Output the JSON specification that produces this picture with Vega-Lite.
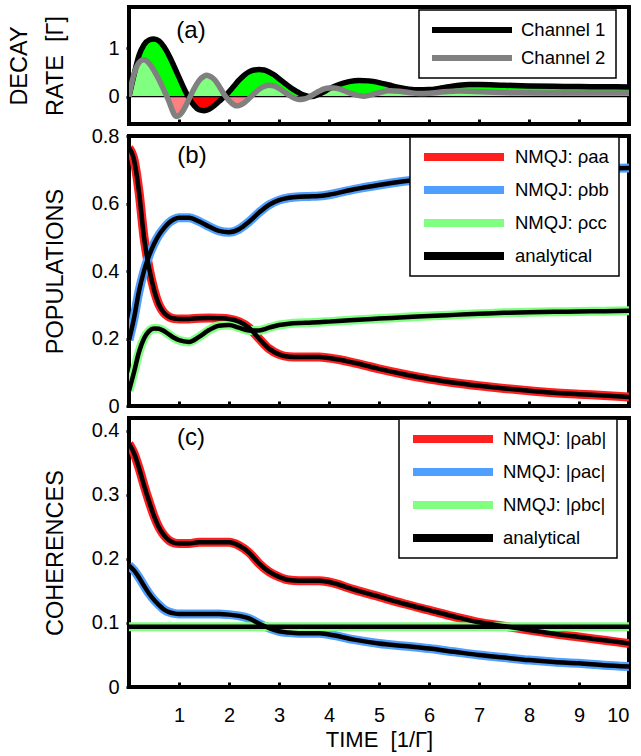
{
  "$schema": "https://vega.github.io/schema/vega-lite/v6.json",
  "background": "white",
  "padding": {"left": 5, "top": 5, "right": 3, "bottom": 3},
  "spacing": 12,
  "bounds": "flush",
  "resolve": {"scale": {"color": "independent"}, "legend": {"color": "independent"}},
  "datasets": {
    "decay": [
      {"t":0,"s":"Channel 1","v":0},{"t":0.1,"s":"Channel 1","v":0.45},{"t":0.2,"s":"Channel 1","v":0.85},{"t":0.3,"s":"Channel 1","v":1.07},{"t":0.4,"s":"Channel 1","v":1.17},{"t":0.5,"s":"Channel 1","v":1.19},{"t":0.6,"s":"Channel 1","v":1.15},{"t":0.7,"s":"Channel 1","v":1.03},{"t":0.8,"s":"Channel 1","v":0.85},{"t":0.9,"s":"Channel 1","v":0.63},{"t":1.0,"s":"Channel 1","v":0.4},{"t":1.1,"s":"Channel 1","v":0.17},{"t":1.2,"s":"Channel 1","v":-0.03},{"t":1.3,"s":"Channel 1","v":-0.18},{"t":1.4,"s":"Channel 1","v":-0.27},{"t":1.5,"s":"Channel 1","v":-0.29},{"t":1.6,"s":"Channel 1","v":-0.26},{"t":1.7,"s":"Channel 1","v":-0.19},{"t":1.8,"s":"Channel 1","v":-0.1},{"t":1.9,"s":"Channel 1","v":-0.01},{"t":2.0,"s":"Channel 1","v":0.1},{"t":2.1,"s":"Channel 1","v":0.22},{"t":2.2,"s":"Channel 1","v":0.34},{"t":2.3,"s":"Channel 1","v":0.44},{"t":2.4,"s":"Channel 1","v":0.51},{"t":2.5,"s":"Channel 1","v":0.55},{"t":2.6,"s":"Channel 1","v":0.56},{"t":2.7,"s":"Channel 1","v":0.55},{"t":2.8,"s":"Channel 1","v":0.51},{"t":2.9,"s":"Channel 1","v":0.45},{"t":3.0,"s":"Channel 1","v":0.37},{"t":3.1,"s":"Channel 1","v":0.29},{"t":3.2,"s":"Channel 1","v":0.21},{"t":3.3,"s":"Channel 1","v":0.14},{"t":3.4,"s":"Channel 1","v":0.08},{"t":3.5,"s":"Channel 1","v":0.03},{"t":3.6,"s":"Channel 1","v":0.005},{"t":3.7,"s":"Channel 1","v":0.01},{"t":3.8,"s":"Channel 1","v":0.05},{"t":3.9,"s":"Channel 1","v":0.1},{"t":4.0,"s":"Channel 1","v":0.16},{"t":4.2,"s":"Channel 1","v":0.25},{"t":4.4,"s":"Channel 1","v":0.31},{"t":4.6,"s":"Channel 1","v":0.335},{"t":4.8,"s":"Channel 1","v":0.325},{"t":5.0,"s":"Channel 1","v":0.29},{"t":5.2,"s":"Channel 1","v":0.24},{"t":5.4,"s":"Channel 1","v":0.19},{"t":5.6,"s":"Channel 1","v":0.155},{"t":5.8,"s":"Channel 1","v":0.14},{"t":6.0,"s":"Channel 1","v":0.145},{"t":6.2,"s":"Channel 1","v":0.17},{"t":6.4,"s":"Channel 1","v":0.205},{"t":6.6,"s":"Channel 1","v":0.235},{"t":6.8,"s":"Channel 1","v":0.25},{"t":7.0,"s":"Channel 1","v":0.25},{"t":7.5,"s":"Channel 1","v":0.235},{"t":8.0,"s":"Channel 1","v":0.22},{"t":8.5,"s":"Channel 1","v":0.212},{"t":9.0,"s":"Channel 1","v":0.207},{"t":9.5,"s":"Channel 1","v":0.203},{"t":10,"s":"Channel 1","v":0.2},
      {"t":0,"s":"Channel 2","v":0},{"t":0.05,"s":"Channel 2","v":0.26},{"t":0.1,"s":"Channel 2","v":0.46},{"t":0.15,"s":"Channel 2","v":0.61},{"t":0.2,"s":"Channel 2","v":0.7},{"t":0.25,"s":"Channel 2","v":0.75},{"t":0.3,"s":"Channel 2","v":0.76},{"t":0.35,"s":"Channel 2","v":0.74},{"t":0.4,"s":"Channel 2","v":0.69},{"t":0.5,"s":"Channel 2","v":0.54},{"t":0.6,"s":"Channel 2","v":0.35},{"t":0.7,"s":"Channel 2","v":0.13},{"t":0.8,"s":"Channel 2","v":-0.1},{"t":0.85,"s":"Channel 2","v":-0.24},{"t":0.9,"s":"Channel 2","v":-0.36},{"t":0.95,"s":"Channel 2","v":-0.41},{"t":1.0,"s":"Channel 2","v":-0.39},{"t":1.05,"s":"Channel 2","v":-0.34},{"t":1.1,"s":"Channel 2","v":-0.26},{"t":1.2,"s":"Channel 2","v":-0.05},{"t":1.3,"s":"Channel 2","v":0.16},{"t":1.4,"s":"Channel 2","v":0.33},{"t":1.5,"s":"Channel 2","v":0.42},{"t":1.55,"s":"Channel 2","v":0.44},{"t":1.6,"s":"Channel 2","v":0.43},{"t":1.7,"s":"Channel 2","v":0.36},{"t":1.8,"s":"Channel 2","v":0.22},{"t":1.9,"s":"Channel 2","v":0.05},{"t":2.0,"s":"Channel 2","v":-0.08},{"t":2.1,"s":"Channel 2","v":-0.17},{"t":2.15,"s":"Channel 2","v":-0.19},{"t":2.2,"s":"Channel 2","v":-0.185},{"t":2.3,"s":"Channel 2","v":-0.13},{"t":2.4,"s":"Channel 2","v":-0.04},{"t":2.5,"s":"Channel 2","v":0.06},{"t":2.6,"s":"Channel 2","v":0.15},{"t":2.7,"s":"Channel 2","v":0.21},{"t":2.8,"s":"Channel 2","v":0.235},{"t":2.9,"s":"Channel 2","v":0.22},{"t":3.0,"s":"Channel 2","v":0.17},{"t":3.1,"s":"Channel 2","v":0.1},{"t":3.2,"s":"Channel 2","v":0.03},{"t":3.3,"s":"Channel 2","v":-0.03},{"t":3.4,"s":"Channel 2","v":-0.06},{"t":3.5,"s":"Channel 2","v":-0.05},{"t":3.6,"s":"Channel 2","v":-0.01},{"t":3.7,"s":"Channel 2","v":0.05},{"t":3.8,"s":"Channel 2","v":0.11},{"t":3.9,"s":"Channel 2","v":0.16},{"t":4.0,"s":"Channel 2","v":0.18},{"t":4.1,"s":"Channel 2","v":0.18},{"t":4.2,"s":"Channel 2","v":0.16},{"t":4.4,"s":"Channel 2","v":0.08},{"t":4.6,"s":"Channel 2","v":0.02},{"t":4.7,"s":"Channel 2","v":0.01},{"t":4.8,"s":"Channel 2","v":0.025},{"t":5.0,"s":"Channel 2","v":0.08},{"t":5.2,"s":"Channel 2","v":0.12},{"t":5.4,"s":"Channel 2","v":0.11},{"t":5.6,"s":"Channel 2","v":0.085},{"t":5.8,"s":"Channel 2","v":0.065},{"t":6.0,"s":"Channel 2","v":0.07},{"t":6.3,"s":"Channel 2","v":0.1},{"t":6.6,"s":"Channel 2","v":0.115},{"t":6.9,"s":"Channel 2","v":0.105},{"t":7.3,"s":"Channel 2","v":0.09},{"t":7.8,"s":"Channel 2","v":0.078},{"t":8.5,"s":"Channel 2","v":0.075},{"t":9.0,"s":"Channel 2","v":0.075},{"t":10,"s":"Channel 2","v":0.075}
    ],
    "pop": [
      {"t":0,"s":"NMQJ: ρaa","v":0.765},{"t":0.1,"s":"NMQJ: ρaa","v":0.73},{"t":0.2,"s":"NMQJ: ρaa","v":0.635},{"t":0.3,"s":"NMQJ: ρaa","v":0.5},{"t":0.4,"s":"NMQJ: ρaa","v":0.41},{"t":0.5,"s":"NMQJ: ρaa","v":0.345},{"t":0.6,"s":"NMQJ: ρaa","v":0.3},{"t":0.7,"s":"NMQJ: ρaa","v":0.276},{"t":0.8,"s":"NMQJ: ρaa","v":0.264},{"t":0.9,"s":"NMQJ: ρaa","v":0.259},{"t":1.0,"s":"NMQJ: ρaa","v":0.258},{"t":1.2,"s":"NMQJ: ρaa","v":0.258},{"t":1.4,"s":"NMQJ: ρaa","v":0.26},{"t":1.6,"s":"NMQJ: ρaa","v":0.261},{"t":1.8,"s":"NMQJ: ρaa","v":0.26},{"t":2.0,"s":"NMQJ: ρaa","v":0.258},{"t":2.2,"s":"NMQJ: ρaa","v":0.25},{"t":2.4,"s":"NMQJ: ρaa","v":0.232},{"t":2.6,"s":"NMQJ: ρaa","v":0.2},{"t":2.8,"s":"NMQJ: ρaa","v":0.17},{"t":3.0,"s":"NMQJ: ρaa","v":0.153},{"t":3.2,"s":"NMQJ: ρaa","v":0.146},{"t":3.4,"s":"NMQJ: ρaa","v":0.145},{"t":3.6,"s":"NMQJ: ρaa","v":0.145},{"t":3.8,"s":"NMQJ: ρaa","v":0.145},{"t":4.0,"s":"NMQJ: ρaa","v":0.142},{"t":4.5,"s":"NMQJ: ρaa","v":0.128},{"t":5.0,"s":"NMQJ: ρaa","v":0.11},{"t":5.5,"s":"NMQJ: ρaa","v":0.094},{"t":6.0,"s":"NMQJ: ρaa","v":0.08},{"t":6.5,"s":"NMQJ: ρaa","v":0.069},{"t":7.0,"s":"NMQJ: ρaa","v":0.06},{"t":7.5,"s":"NMQJ: ρaa","v":0.052},{"t":8.0,"s":"NMQJ: ρaa","v":0.045},{"t":8.5,"s":"NMQJ: ρaa","v":0.039},{"t":9.0,"s":"NMQJ: ρaa","v":0.035},{"t":9.5,"s":"NMQJ: ρaa","v":0.031},{"t":10,"s":"NMQJ: ρaa","v":0.027},
      {"t":0,"s":"NMQJ: ρbb","v":0.195},{"t":0.1,"s":"NMQJ: ρbb","v":0.26},{"t":0.2,"s":"NMQJ: ρbb","v":0.34},{"t":0.3,"s":"NMQJ: ρbb","v":0.4},{"t":0.4,"s":"NMQJ: ρbb","v":0.445},{"t":0.5,"s":"NMQJ: ρbb","v":0.48},{"t":0.6,"s":"NMQJ: ρbb","v":0.507},{"t":0.7,"s":"NMQJ: ρbb","v":0.527},{"t":0.8,"s":"NMQJ: ρbb","v":0.543},{"t":0.9,"s":"NMQJ: ρbb","v":0.553},{"t":1.0,"s":"NMQJ: ρbb","v":0.558},{"t":1.2,"s":"NMQJ: ρbb","v":0.558},{"t":1.4,"s":"NMQJ: ρbb","v":0.547},{"t":1.6,"s":"NMQJ: ρbb","v":0.532},{"t":1.8,"s":"NMQJ: ρbb","v":0.519},{"t":2.0,"s":"NMQJ: ρbb","v":0.515},{"t":2.2,"s":"NMQJ: ρbb","v":0.524},{"t":2.4,"s":"NMQJ: ρbb","v":0.546},{"t":2.6,"s":"NMQJ: ρbb","v":0.573},{"t":2.8,"s":"NMQJ: ρbb","v":0.596},{"t":3.0,"s":"NMQJ: ρbb","v":0.61},{"t":3.2,"s":"NMQJ: ρbb","v":0.617},{"t":3.4,"s":"NMQJ: ρbb","v":0.62},{"t":3.6,"s":"NMQJ: ρbb","v":0.621},{"t":3.8,"s":"NMQJ: ρbb","v":0.622},{"t":4.0,"s":"NMQJ: ρbb","v":0.626},{"t":4.5,"s":"NMQJ: ρbb","v":0.642},{"t":5.0,"s":"NMQJ: ρbb","v":0.655},{"t":5.5,"s":"NMQJ: ρbb","v":0.666},{"t":6.0,"s":"NMQJ: ρbb","v":0.675},{"t":6.5,"s":"NMQJ: ρbb","v":0.683},{"t":7.0,"s":"NMQJ: ρbb","v":0.689},{"t":7.5,"s":"NMQJ: ρbb","v":0.694},{"t":8.0,"s":"NMQJ: ρbb","v":0.698},{"t":8.5,"s":"NMQJ: ρbb","v":0.701},{"t":9.0,"s":"NMQJ: ρbb","v":0.703},{"t":9.5,"s":"NMQJ: ρbb","v":0.704},{"t":10,"s":"NMQJ: ρbb","v":0.705},
      {"t":0,"s":"NMQJ: ρcc","v":0.045},{"t":0.1,"s":"NMQJ: ρcc","v":0.1},{"t":0.2,"s":"NMQJ: ρcc","v":0.16},{"t":0.3,"s":"NMQJ: ρcc","v":0.2},{"t":0.4,"s":"NMQJ: ρcc","v":0.222},{"t":0.5,"s":"NMQJ: ρcc","v":0.23},{"t":0.6,"s":"NMQJ: ρcc","v":0.229},{"t":0.7,"s":"NMQJ: ρcc","v":0.222},{"t":0.8,"s":"NMQJ: ρcc","v":0.212},{"t":0.9,"s":"NMQJ: ρcc","v":0.202},{"t":1.0,"s":"NMQJ: ρcc","v":0.195},{"t":1.2,"s":"NMQJ: ρcc","v":0.19},{"t":1.4,"s":"NMQJ: ρcc","v":0.205},{"t":1.6,"s":"NMQJ: ρcc","v":0.225},{"t":1.8,"s":"NMQJ: ρcc","v":0.238},{"t":2.0,"s":"NMQJ: ρcc","v":0.24},{"t":2.2,"s":"NMQJ: ρcc","v":0.232},{"t":2.4,"s":"NMQJ: ρcc","v":0.224},{"t":2.6,"s":"NMQJ: ρcc","v":0.224},{"t":2.8,"s":"NMQJ: ρcc","v":0.232},{"t":3.0,"s":"NMQJ: ρcc","v":0.24},{"t":3.2,"s":"NMQJ: ρcc","v":0.244},{"t":3.4,"s":"NMQJ: ρcc","v":0.246},{"t":3.6,"s":"NMQJ: ρcc","v":0.247},{"t":3.8,"s":"NMQJ: ρcc","v":0.248},{"t":4.0,"s":"NMQJ: ρcc","v":0.25},{"t":4.5,"s":"NMQJ: ρcc","v":0.255},{"t":5.0,"s":"NMQJ: ρcc","v":0.259},{"t":5.5,"s":"NMQJ: ρcc","v":0.263},{"t":6.0,"s":"NMQJ: ρcc","v":0.267},{"t":6.5,"s":"NMQJ: ρcc","v":0.27},{"t":7.0,"s":"NMQJ: ρcc","v":0.273},{"t":7.5,"s":"NMQJ: ρcc","v":0.276},{"t":8.0,"s":"NMQJ: ρcc","v":0.278},{"t":8.5,"s":"NMQJ: ρcc","v":0.279},{"t":9.0,"s":"NMQJ: ρcc","v":0.28},{"t":9.5,"s":"NMQJ: ρcc","v":0.281},{"t":10,"s":"NMQJ: ρcc","v":0.282}
    ],
    "coh": [
      {"t":0,"s":"NMQJ: |ρab|","v":0.38},{"t":0.1,"s":"NMQJ: |ρab|","v":0.365},{"t":0.2,"s":"NMQJ: |ρab|","v":0.342},{"t":0.3,"s":"NMQJ: |ρab|","v":0.315},{"t":0.4,"s":"NMQJ: |ρab|","v":0.29},{"t":0.5,"s":"NMQJ: |ρab|","v":0.267},{"t":0.6,"s":"NMQJ: |ρab|","v":0.249},{"t":0.7,"s":"NMQJ: |ρab|","v":0.237},{"t":0.8,"s":"NMQJ: |ρab|","v":0.229},{"t":0.9,"s":"NMQJ: |ρab|","v":0.225},{"t":1.0,"s":"NMQJ: |ρab|","v":0.224},{"t":1.2,"s":"NMQJ: |ρab|","v":0.224},{"t":1.4,"s":"NMQJ: |ρab|","v":0.226},{"t":1.6,"s":"NMQJ: |ρab|","v":0.226},{"t":1.8,"s":"NMQJ: |ρab|","v":0.226},{"t":2.0,"s":"NMQJ: |ρab|","v":0.226},{"t":2.2,"s":"NMQJ: |ρab|","v":0.221},{"t":2.4,"s":"NMQJ: |ρab|","v":0.21},{"t":2.6,"s":"NMQJ: |ρab|","v":0.193},{"t":2.8,"s":"NMQJ: |ρab|","v":0.18},{"t":3.0,"s":"NMQJ: |ρab|","v":0.172},{"t":3.2,"s":"NMQJ: |ρab|","v":0.167},{"t":3.4,"s":"NMQJ: |ρab|","v":0.166},{"t":3.6,"s":"NMQJ: |ρab|","v":0.166},{"t":3.8,"s":"NMQJ: |ρab|","v":0.166},{"t":4.0,"s":"NMQJ: |ρab|","v":0.164},{"t":4.5,"s":"NMQJ: |ρab|","v":0.152},{"t":5.0,"s":"NMQJ: |ρab|","v":0.141},{"t":5.5,"s":"NMQJ: |ρab|","v":0.13},{"t":6.0,"s":"NMQJ: |ρab|","v":0.12},{"t":6.5,"s":"NMQJ: |ρab|","v":0.11},{"t":7.0,"s":"NMQJ: |ρab|","v":0.101},{"t":7.5,"s":"NMQJ: |ρab|","v":0.095},{"t":8.0,"s":"NMQJ: |ρab|","v":0.089},{"t":8.5,"s":"NMQJ: |ρab|","v":0.083},{"t":9.0,"s":"NMQJ: |ρab|","v":0.078},{"t":9.5,"s":"NMQJ: |ρab|","v":0.073},{"t":10,"s":"NMQJ: |ρab|","v":0.068},
      {"t":0,"s":"NMQJ: |ρac|","v":0.19},{"t":0.1,"s":"NMQJ: |ρac|","v":0.182},{"t":0.2,"s":"NMQJ: |ρac|","v":0.171},{"t":0.3,"s":"NMQJ: |ρac|","v":0.158},{"t":0.4,"s":"NMQJ: |ρac|","v":0.146},{"t":0.5,"s":"NMQJ: |ρac|","v":0.136},{"t":0.6,"s":"NMQJ: |ρac|","v":0.128},{"t":0.7,"s":"NMQJ: |ρac|","v":0.121},{"t":0.8,"s":"NMQJ: |ρac|","v":0.117},{"t":0.9,"s":"NMQJ: |ρac|","v":0.115},{"t":1.0,"s":"NMQJ: |ρac|","v":0.114},{"t":1.2,"s":"NMQJ: |ρac|","v":0.114},{"t":1.4,"s":"NMQJ: |ρac|","v":0.114},{"t":1.6,"s":"NMQJ: |ρac|","v":0.114},{"t":1.8,"s":"NMQJ: |ρac|","v":0.114},{"t":2.0,"s":"NMQJ: |ρac|","v":0.113},{"t":2.2,"s":"NMQJ: |ρac|","v":0.111},{"t":2.4,"s":"NMQJ: |ρac|","v":0.107},{"t":2.6,"s":"NMQJ: |ρac|","v":0.099},{"t":2.8,"s":"NMQJ: |ρac|","v":0.092},{"t":3.0,"s":"NMQJ: |ρac|","v":0.087},{"t":3.2,"s":"NMQJ: |ρac|","v":0.085},{"t":3.4,"s":"NMQJ: |ρac|","v":0.084},{"t":3.6,"s":"NMQJ: |ρac|","v":0.084},{"t":3.8,"s":"NMQJ: |ρac|","v":0.084},{"t":4.0,"s":"NMQJ: |ρac|","v":0.082},{"t":4.5,"s":"NMQJ: |ρac|","v":0.074},{"t":5.0,"s":"NMQJ: |ρac|","v":0.068},{"t":5.5,"s":"NMQJ: |ρac|","v":0.064},{"t":6.0,"s":"NMQJ: |ρac|","v":0.06},{"t":6.5,"s":"NMQJ: |ρac|","v":0.055},{"t":7.0,"s":"NMQJ: |ρac|","v":0.05},{"t":7.5,"s":"NMQJ: |ρac|","v":0.046},{"t":8.0,"s":"NMQJ: |ρac|","v":0.042},{"t":8.5,"s":"NMQJ: |ρac|","v":0.039},{"t":9.0,"s":"NMQJ: |ρac|","v":0.037},{"t":9.5,"s":"NMQJ: |ρac|","v":0.034},{"t":10,"s":"NMQJ: |ρac|","v":0.032},
      {"t":0,"s":"NMQJ: |ρbc|","v":0.094},{"t":2,"s":"NMQJ: |ρbc|","v":0.094},{"t":4,"s":"NMQJ: |ρbc|","v":0.094},{"t":6,"s":"NMQJ: |ρbc|","v":0.094},{"t":8,"s":"NMQJ: |ρbc|","v":0.094},{"t":10,"s":"NMQJ: |ρbc|","v":0.094}
    ]
  },
  "vconcat": [
    {
      "width": 500, "height": 117,
      "data": {"name": "decay"},
      "resolve": {"scale": {"y": "independent"}, "axis": {"y": "independent"}},
      "layer": [
        {"layer": [
          {"transform": [{"filter": "datum.s === 'Channel 1'"}],
           "mark": {"type": "area", "interpolate": "monotone", "clip": true,
                    "color": {"gradient": "linear", "x1": 0, "y1": 0, "x2": 0, "y2": 1, "stops": [{"offset": 0, "color": "#00ff00"}, {"offset": 0.8041, "color": "#00ff00"}, {"offset": 0.8041, "color": "#ff0000"}, {"offset": 1, "color": "#ff0000"}]}},
           "encoding": {
             "x": {"field": "t", "type": "quantitative", "scale": {"domain": [0, 10], "nice": false}, "axis": {"values": [1,2,3,4,5,6,7,8,9], "labels": false, "title": null, "tickSize": -5, "tickWidth": 3}},
             "y": {"field": "v", "type": "quantitative", "scale": {"domain": [-0.565, 1.85], "nice": false, "zero": false}, "axis": {"values": [0, 1], "title": "RATE\u00a0\u00a0[Γ]"}},
             "y2": {"datum": 0}
           }},
          {"transform": [{"filter": "datum.s === 'Channel 2'"}],
           "mark": {"type": "area", "interpolate": "monotone", "clip": true,
                    "color": {"gradient": "linear", "x1": 0, "y1": 0, "x2": 0, "y2": 1, "stops": [{"offset": 0, "color": "#80ff80"}, {"offset": 0.6496, "color": "#80ff80"}, {"offset": 0.6496, "color": "#ff8080"}, {"offset": 1, "color": "#ff8080"}]}},
           "encoding": {
             "x": {"field": "t", "type": "quantitative"},
             "y": {"field": "v", "type": "quantitative"},
             "y2": {"datum": 0}
           }},
          {"data": {"values": [{"v": 0}]},
           "mark": {"type": "rule", "color": "black", "strokeWidth": 1.2},
           "encoding": {"y": {"field": "v", "type": "quantitative"}}},
          {"mark": {"type": "line", "interpolate": "monotone", "strokeWidth": 5.5, "clip": true},
           "encoding": {
             "x": {"field": "t", "type": "quantitative"},
             "y": {"field": "v", "type": "quantitative"},
             "color": {"field": "s", "type": "nominal", "scale": {"domain": ["Channel 1", "Channel 2"], "range": ["black", "#808080"]},
                       "legend": {"title": null, "orient": "none", "legendX": 290, "legendY": 3, "symbolStrokeWidth": 6, "clipHeight": 20, "rowPadding": 8, "padding": 10, "labelOffset": 6}}
           }},
          {"data": {"values": [{"label": "(a)", "t": 1.24, "v": 1.35}]},
           "mark": {"type": "text", "fontSize": 24, "fontWeight": "normal", "align": "center", "baseline": "middle"},
           "encoding": {"x": {"field": "t", "type": "quantitative"}, "y": {"field": "v", "type": "quantitative"}, "text": {"field": "label"}}}
        ]},
        {"data": {"values": [{"v": 0}]},
         "mark": {"type": "rule", "strokeOpacity": 0},
         "encoding": {"y": {"field": "v", "type": "quantitative", "scale": {"domain": [-0.565, 1.85], "nice": false, "zero": false},
                            "axis": {"orient": "left", "title": "DECAY", "labels": false, "ticks": false, "domain": false, "minExtent": 0, "maxExtent": 0, "titlePadding": 97.7}}}}
      ]
    },
    {
      "width": 500, "height": 270,
      "data": {"name": "pop"},
      "layer": [
        {"mark": {"type": "line", "interpolate": "monotone", "clip": true, "strokeWidth": 9},
         "encoding": {
           "x": {"field": "t", "type": "quantitative", "scale": {"domain": [0, 10], "nice": false}, "axis": {"values": [1,2,3,4,5,6,7,8,9], "labels": false, "title": null, "tickSize": -5, "tickWidth": 3}},
           "y": {"field": "v", "type": "quantitative", "scale": {"domain": [0, 0.8], "nice": false}, "axis": {"values": [0, 0.2, 0.4, 0.6, 0.8], "title": "POPULATIONS"}},
           "color": {"field": "s", "type": "nominal", "scale": {"domain": ["NMQJ: ρaa", "NMQJ: ρbb", "NMQJ: ρcc", "analytical"], "range": ["#ff1f1f", "#4f9fff", "#80ff80", "black"]},
                     "legend": {"title": null, "orient": "none", "legendX": 281, "legendY": 1, "clipHeight": 20, "rowPadding": 13, "padding": 10, "labelOffset": 7, "symbolStrokeWidth": 8}}
         }},
        {"mark": {"type": "line", "interpolate": "monotone", "clip": true, "strokeWidth": 4.5},
         "encoding": {
           "x": {"field": "t", "type": "quantitative"},
           "y": {"field": "v", "type": "quantitative"},
           "detail": {"field": "s", "type": "nominal"},
           "color": {"datum": "analytical", "type": "nominal"}
         }},
        {"data": {"values": [{"label": "(b)", "t": 1.26, "v": 0.74}]},
         "mark": {"type": "text", "fontSize": 24, "fontWeight": "normal", "align": "center", "baseline": "middle"},
         "encoding": {"x": {"field": "t", "type": "quantitative"}, "y": {"field": "v", "type": "quantitative"}, "text": {"field": "label"}}}
      ]
    },
    {
      "width": 500, "height": 269,
      "data": {"name": "coh"},
      "layer": [
        {"mark": {"type": "line", "interpolate": "monotone", "clip": true, "strokeWidth": 9},
         "encoding": {
           "x": {"field": "t", "type": "quantitative", "scale": {"domain": [0, 10], "nice": false}, "axis": {"values": [1,2,3,4,5,6,7,8,9,10], "title": "TIME\u00a0\u00a0[1/Γ]", "tickSize": -5, "tickWidth": 3, "labelPadding": 23, "titlePadding": 4, "titleFontSize": 22}},
           "y": {"field": "v", "type": "quantitative", "scale": {"domain": [0, 0.42], "nice": false}, "axis": {"values": [0, 0.1, 0.2, 0.3, 0.4], "title": "COHERENCES"}},
           "color": {"field": "s", "type": "nominal", "scale": {"domain": ["NMQJ: |ρab|", "NMQJ: |ρac|", "NMQJ: |ρbc|", "analytical"], "range": ["#ff1f1f", "#4f9fff", "#80ff80", "black"]},
                     "legend": {"title": null, "orient": "none", "legendX": 270, "legendY": 1, "clipHeight": 20, "rowPadding": 13, "padding": 10, "labelOffset": 6, "symbolStrokeWidth": 8}}
         }},
        {"mark": {"type": "line", "interpolate": "monotone", "clip": true, "strokeWidth": 4.5},
         "encoding": {
           "x": {"field": "t", "type": "quantitative"},
           "y": {"field": "v", "type": "quantitative"},
           "detail": {"field": "s", "type": "nominal"},
           "color": {"datum": "analytical", "type": "nominal"}
         }},
        {"data": {"values": [{"label": "(c)", "t": 1.24, "v": 0.389}]},
         "mark": {"type": "text", "fontSize": 24, "fontWeight": "normal", "align": "center", "baseline": "middle"},
         "encoding": {"x": {"field": "t", "type": "quantitative"}, "y": {"field": "v", "type": "quantitative"}, "text": {"field": "label"}}}
      ]
    }
  ],
  "config": {
    "font": "Liberation Sans",
    "view": {"stroke": "black", "strokeWidth": 4},
    "axis": {"grid": false, "domain": false, "labelColor": "black", "titleColor": "black", "tickColor": "black", "labelFontSize": 20, "titleFontSize": 23.5, "titleFontWeight": "normal", "labelFont": "Liberation Sans", "titleFont": "Liberation Sans"},
    "axisY": {"format": "~f", "tickSize": 3, "tickWidth": 3, "labelPadding": 7, "minExtent": 50, "maxExtent": 50, "titlePadding": 12},
    "legend": {"labelFontSize": 18.5, "labelColor": "black", "labelFont": "Liberation Sans", "strokeColor": "black", "strokeWidth": 1.5, "fillColor": "white", "symbolType": "stroke", "symbolSize": 6400},
    "text": {"font": "Liberation Sans", "fill": "black"}
  }
}
